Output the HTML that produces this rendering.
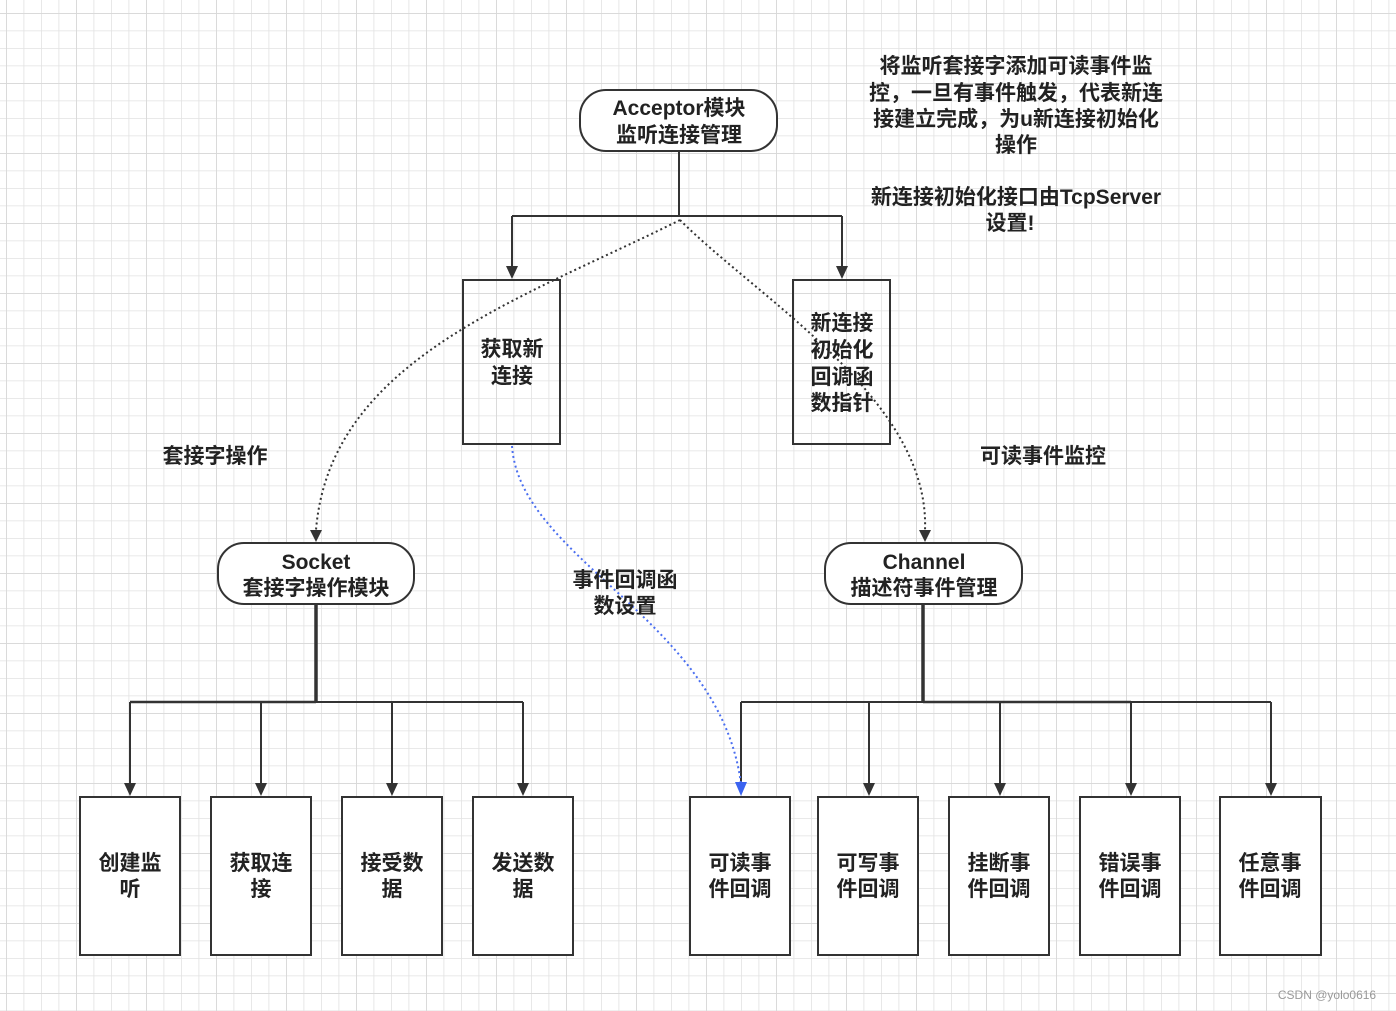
<!DOCTYPE html>
<html><head><meta charset="utf-8"><style>
html,body{margin:0;padding:0;background:#fff}
svg{display:block}
text{font-family:"Liberation Sans","Noto Sans CJK SC",sans-serif;font-weight:bold;fill:#222;font-size:21px;text-anchor:middle}
</style></head><body>
<svg width="1396" height="1011" viewBox="0 0 1396 1011" xmlns="http://www.w3.org/2000/svg">
<defs>
<pattern id="g" x="6" y="13" width="17.5" height="17.5" patternUnits="userSpaceOnUse">
<path d="M0 0H17.5M0 0V17.5" stroke="#e2e2e2" stroke-width="1.6" fill="none"/>
</pattern>
<pattern id="G" x="6" y="13" width="70" height="70" patternUnits="userSpaceOnUse">
<path d="M0 0H70M0 0V70" stroke="#d8d8d8" stroke-width="1.8" fill="none"/>
</pattern>
</defs>
<rect width="1396" height="1011" fill="url(#g)"/>
<rect width="1396" height="1011" fill="url(#G)"/>

<g stroke="#333" stroke-width="2" fill="none">
<path d="M679 151V216M512 216H842M512 216V268M842 216V268"/>
<path d="M316 604V702M130 702H523M130 702V785M261 702V785M392 702V785M523 702V785"/>
<path d="M923 604V702M741 702H1271M869 702V785M1000 702V785M1131 702V785M1271 702V785M741 702V785"/>
<path d="M316 604V702M923 604V702" stroke-width="3.5"/>
<path d="M130 702H316M923 702H1131" stroke-width="2.5"/>
</g>
<g fill="#333">
<path d="M506 266L518 266L512 279Z"/><path d="M836 266L848 266L842 279Z"/>
<path d="M124 783L136 783L130 796Z"/><path d="M255 783L267 783L261 796Z"/><path d="M386 783L398 783L392 796Z"/><path d="M517 783L529 783L523 796Z"/>
<path d="M863 783L875 783L869 796Z"/><path d="M994 783L1006 783L1000 796Z"/><path d="M1125 783L1137 783L1131 796Z"/><path d="M1265 783L1277 783L1271 796Z"/>
<path d="M310 530L322 530L316 542Z"/><path d="M919 530L931 530L925 542Z"/>
</g>
<g stroke="#333" stroke-width="2" fill="none" stroke-dasharray="2 3">
<path d="M680 220 C 520 300, 330 360, 316 530"/>
<path d="M680 220 C 760 300, 930 400, 925 530"/>
</g>
<path d="M512 446 C 520 560, 720 620, 741 784" stroke="#4a6ef0" stroke-width="2" fill="none" stroke-dasharray="2 3"/>

<g stroke="#333" stroke-width="2" fill="#fff">
<rect x="580" y="90" width="197" height="61" rx="26"/>
<rect x="218" y="543" width="196" height="61" rx="26"/>
<rect x="825" y="543" width="197" height="61" rx="26"/>
<rect x="463" y="280" width="97" height="164" fill="none"/>
<rect x="793" y="280" width="97" height="164" fill="none"/>
<rect x="80" y="797" width="100" height="158"/>
<rect x="211" y="797" width="100" height="158"/>
<rect x="342" y="797" width="100" height="158"/>
<rect x="473" y="797" width="100" height="158"/>
<rect x="690" y="797" width="100" height="158"/>
<rect x="818" y="797" width="100" height="158"/>
<rect x="949" y="797" width="100" height="158"/>
<rect x="1080" y="797" width="100" height="158"/>
<rect x="1220" y="797" width="101" height="158"/>
</g>
<path d="M735 782L747 782L741 796Z" fill="#3b63f0"/>

<g>
<text x="679" y="115">Acceptor模块</text><text x="679" y="142">监听连接管理</text>
<text x="316" y="569">Socket</text><text x="316" y="595">套接字操作模块</text>
<text x="924" y="569">Channel</text><text x="924" y="595">描述符事件管理</text>
<text x="512" y="356">获取新</text><text x="512" y="383">连接</text>
<text x="842" y="330">新连接</text><text x="842" y="357">初始化</text><text x="842" y="384">回调函</text><text x="842" y="410">数指针</text>
<text x="130" y="870">创建监</text><text x="130" y="896">听</text>
<text x="261" y="870">获取连</text><text x="261" y="896">接</text>
<text x="392" y="870">接受数</text><text x="392" y="896">据</text>
<text x="523" y="870">发送数</text><text x="523" y="896">据</text>
<text x="740" y="870">可读事</text><text x="740" y="896">件回调</text>
<text x="868" y="870">可写事</text><text x="868" y="896">件回调</text>
<text x="999" y="870">挂断事</text><text x="999" y="896">件回调</text>
<text x="1130" y="870">错误事</text><text x="1130" y="896">件回调</text>
<text x="1270" y="870">任意事</text><text x="1270" y="896">件回调</text>
<text x="215" y="463">套接字操作</text>
<text x="1043" y="463">可读事件监控</text>
<text x="625" y="587">事件回调函</text><text x="625" y="613">数设置</text>
<text x="1016" y="73">将监听套接字添加可读事件监</text>
<text x="1016" y="100">控，一旦有事件触发，代表新连</text>
<text x="1016" y="126">接建立完成，为u新连接初始化</text>
<text x="1016" y="152">操作</text>
<text x="1016" y="204">新连接初始化接口由TcpServer</text>
<text x="1010" y="230">设置!</text>
<text x="1327" y="999" style="font-size:12px;font-weight:normal;fill:#999">CSDN @yolo0616</text>
</g>
</svg>
</body></html>
